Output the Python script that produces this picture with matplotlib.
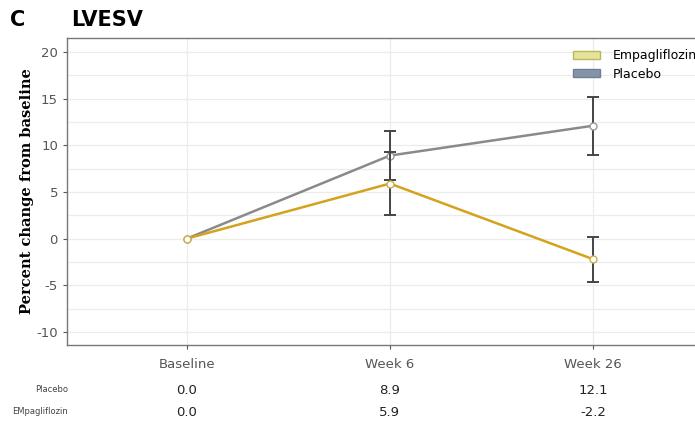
import numpy as np
import matplotlib.pyplot as plt
from matplotlib.patches import Patch
from matplotlib.transforms import blended_transform_factory

plt.rcParams["axes.unicode_minus"] = False

visits = ["Baseline", "Week 6", "Week 26"]
placebo = [0.0, 8.9, 12.1]
placebo_err = [0.0, 2.6, 3.1]
empa = [0.0, 5.9, -2.2]
empa_err = [0.0, 3.4, 2.4]
row_labels = ["Placebo", "EMpagliflozin"]

fig = plt.figure(figsize=(6.95, 4.22), dpi=100)
ax = fig.add_axes([67 / 695, 77 / 422, 655 / 695, 307 / 422])
x = np.arange(len(visits))

ax.set_yticks(np.arange(-10, 21, 2.5), minor=True)
ax.grid(True, which="both", axis="y", color="#ececec", linewidth=0.9)
ax.grid(True, which="major", axis="x", color="#ececec", linewidth=0.9)
ax.set_axisbelow(True)


def draw(vals, errs, color, edge, z):
    err = np.array(errs, dtype=float)
    err[err == 0] = np.nan  # no bar at baseline
    ax.errorbar(x, vals, yerr=err, fmt="none", ecolor="#444444",
                elinewidth=1.4, capsize=4, capthick=1.4, zorder=z)
    ax.plot(x, vals, color=color, linewidth=1.8, marker="o", markersize=5,
            markerfacecolor="white", markeredgecolor=edge, zorder=z + 1)


draw(placebo, placebo_err, "#8a8a8a", "#999999", 3)
draw(empa, empa_err, "#d4a21c", "#c9b04a", 5)

ax.set_xlim(-0.59, 2.635)
ax.set_ylim(-11.4, 21.5)
ax.set_xticks(x)
ax.set_xticklabels(visits, color="#555555", fontsize=9.5)
ax.set_yticks([-10, -5, 0, 5, 10, 15, 20])
ax.tick_params(axis="y", colors="#555555", labelsize=9.5, length=3)
ax.tick_params(axis="y", which="minor", length=0)
ax.tick_params(axis="x", colors="#555555", length=3, pad=6)
for s in ax.spines.values():
    s.set_color("#777777")
    s.set_linewidth(1.0)

ax.set_ylabel("Percent change from baseline", family="DejaVu Serif",
              fontweight="bold", fontsize=10.5, labelpad=2)

handles = [Patch(facecolor="#e6e39a", edgecolor="#b9b860", label="Empagliflozin"),
           Patch(facecolor="#8393a8", edgecolor="#6f7f94", label="Placebo")]
ax.legend(handles=handles, loc="upper left", bbox_to_anchor=(0.755, 1.0),
          frameon=False, fontsize=9, handlelength=2.2, handleheight=0.6,
          handletextpad=1.0, labelspacing=0.45)

fig.text(10 / 695, 1 - 20 / 422, "C", fontsize=15, fontweight="bold", va="center")
fig.text(71 / 695, 1 - 20 / 422, "LVESV", fontsize=15, fontweight="bold", va="center")

tr = blended_transform_factory(ax.transData, fig.transFigure)
for vals, lab, ypix in [(placebo, row_labels[0], 390), (empa, row_labels[1], 412)]:
    yf = 1 - ypix / 422
    fig.text(68 / 695, yf, lab, fontsize=6, color="#444444", ha="right", va="center")
    for xi, v in zip(x, vals):
        ax.text(xi, yf, f"{v:.1f}", transform=tr, fontsize=9.5, color="#222222",
                ha="center", va="center", clip_on=False)

fig.savefig("out.png", dpi=100)
